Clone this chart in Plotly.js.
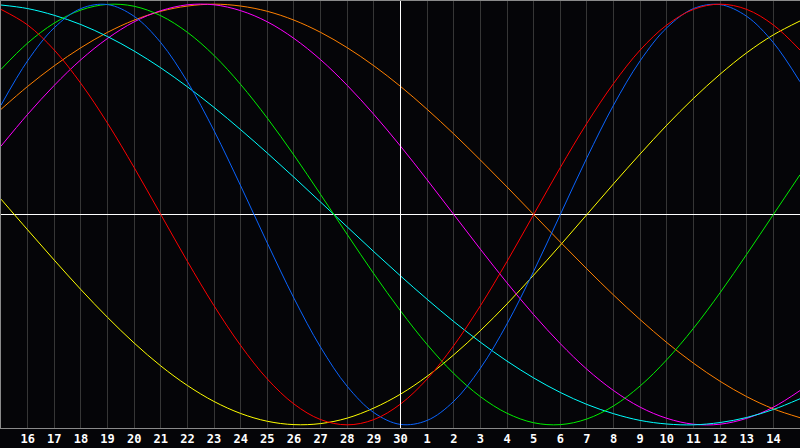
<!DOCTYPE html>
<html>
<head>
<meta charset="utf-8">
<script src="https://cdn.plot.ly/plotly-3.0.1.min.js"></script>
<style>
  html, body { margin: 0; padding: 0; background: #050508; }
  #chart { width: 800px; height: 448px; }
</style>
</head>
<body>
<div id="chart"></div>
<script>
// Day positions (0 = day 15 at left edge, 30 = day 15 of next month at right edge)
const dayIndex = [0,1,2,3,4,5,6,7,8,9,10,11,12,13,14,15,16,17,18,19,20,21,22,23,24,25,26,27,28,29,30];
const tickPositions = [1,2,3,4,5,6,7,8,9,10,11,12,13,14,15,16,17,18,19,20,21,22,23,24,25,26,27,28,29];
const tickLabels = ["16","17","18","19","20","21","22","23","24","25","26","27","28","29","30","1","2","3","4","5","6","7","8","9","10","11","12","13","14"];
const todayIndex = 15;

const red = [0.975,0.901,0.782,0.623,0.434,0.223,0.000,-0.223,-0.434,-0.623,-0.782,-0.901,-0.975,-1.000,-0.975,-0.901,-0.782,-0.623,-0.434,-0.223,0.000,0.223,0.434,0.623,0.782,0.901,0.975,1.000,0.975,0.901,0.782];
const blue = [0.520,0.731,0.888,0.979,0.998,0.942,0.817,0.631,0.398,0.136,-0.136,-0.398,-0.631,-0.817,-0.942,-0.998,-0.979,-0.888,-0.731,-0.520,-0.270,0.000,0.270,0.520,0.731,0.888,0.979,0.998,0.942,0.817,0.631];
const green = [0.690,0.815,0.910,0.972,0.999,0.990,0.945,0.866,0.756,0.618,0.458,0.282,0.095,-0.095,-0.282,-0.458,-0.618,-0.756,-0.866,-0.945,-0.990,-0.999,-0.972,-0.910,-0.815,-0.690,-0.541,-0.372,-0.189,0.000,0.189];
const yellow = [0.073,-0.073,-0.217,-0.357,-0.489,-0.611,-0.720,-0.813,-0.889,-0.946,-0.983,-0.999,-0.994,-0.968,-0.920,-0.854,-0.769,-0.667,-0.552,-0.425,-0.288,-0.146,0.000,0.146,0.288,0.425,0.552,0.667,0.769,0.854,0.920];
const magenta = [0.325,0.476,0.614,0.736,0.837,0.916,0.969,0.997,0.997,0.969,0.916,0.837,0.736,0.614,0.476,0.325,0.165,0.000,-0.165,-0.325,-0.476,-0.614,-0.736,-0.837,-0.916,-0.969,-0.997,-0.997,-0.969,-0.916,-0.837];
const orange = [0.500,0.609,0.707,0.793,0.866,0.924,0.966,0.991,1.000,0.991,0.966,0.924,0.866,0.793,0.707,0.609,0.500,0.383,0.259,0.131,0.000,-0.131,-0.259,-0.383,-0.500,-0.609,-0.707,-0.793,-0.866,-0.924,-0.966];
const cyan = [0.996,0.979,0.947,0.903,0.846,0.777,0.697,0.607,0.509,0.403,0.292,0.177,0.059,-0.059,-0.177,-0.292,-0.403,-0.509,-0.607,-0.697,-0.777,-0.846,-0.903,-0.947,-0.979,-0.996,-1.000,-0.989,-0.965,-0.927,-0.876];

const seriesList = [
  {y: yellow, color: '#ffff00'},
  {y: orange, color: '#ff8000'},
  {y: magenta, color: '#ff00ff'},
  {y: cyan, color: '#00ffff'},
  {y: green, color: '#00ee00'},
  {y: blue, color: '#0a64ff'},
  {y: red, color: '#ff0000'}
];

const traces = seriesList.map(s => ({
  x: dayIndex, y: s.y, type: 'scatter', mode: 'lines',
  line: {color: s.color, width: 1, shape: 'spline', smoothing: 1},
  hoverinfo: 'skip', showlegend: false
}));

const layout = {
  width: 800, height: 448,
  margin: {l: 1, r: 0, t: 1, b: 20, pad: 0},
  paper_bgcolor: '#050508', plot_bgcolor: '#050508',
  showlegend: false,
  xaxis: {
    range: [0, 30], tickmode: 'array', tickvals: tickPositions, ticktext: tickLabels,
    showgrid: true, gridcolor: '#363636', gridwidth: 1, zeroline: false,
    showline: true, linecolor: '#8a8a8a', linewidth: 1, mirror: true,
    ticks: '', ticklen: 0,
    tickfont: {family: 'DejaVu Sans Mono', size: 12, color: '#ffffff', weight: 'bold'},
    fixedrange: true
  },
  yaxis: {
    range: [-1.015, 1.015], showticklabels: false, showgrid: false,
    zeroline: true, zerolinecolor: '#ffffff', zerolinewidth: 1,
    showline: true, linecolor: '#8a8a8a', linewidth: 1, mirror: false,
    ticks: '', fixedrange: true
  },
  shapes: [{
    type: 'line', xref: 'x', yref: 'paper', x0: todayIndex, x1: todayIndex, y0: 0, y1: 1,
    line: {color: '#ffffff', width: 1}
  }]
};

Plotly.newPlot('chart', traces, layout, {displayModeBar: false, staticPlot: true});
</script>
</body>
</html>
